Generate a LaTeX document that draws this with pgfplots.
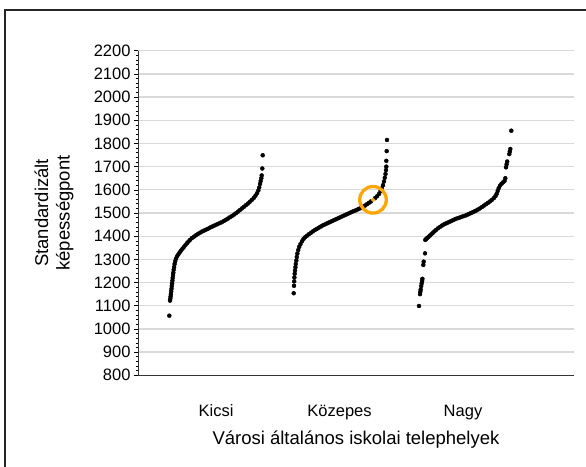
\documentclass[border=0pt]{standalone}
\usepackage{fontspec}
\setmainfont{Liberation Sans}
\usepackage{pgfplots}
\pgfplotsset{compat=1.18}
\definecolor{ring}{RGB}{255,165,0}
\definecolor{gridc}{RGB}{217,217,217}
\begin{document}
\begin{tikzpicture}
\useasboundingbox (0pt,0pt) rectangle (586pt,466pt);
\fill[white] (0pt,0pt) rectangle (586pt,466pt);
\draw[line width=2pt, black!85] (5pt,-20pt) -- (5pt,456pt) -- (600pt,456pt);
\begin{axis}[
  at={(138pt,90.7pt)}, anchor=south west,
  scale only axis, width=436pt, height=324.6pt,
  xmin=138, xmax=574, ymin=800, ymax=2200,
  axis x line*=bottom, axis y line*=left,
  axis line style={-, black!80, line width=1pt},
  ymajorgrids, major grid style={gridc, line width=1.3pt},
  ytick={800,900,...,2200}, minor y tick num=4,
  xtick={216,339.5,463}, xticklabels={Kicsi,Közepes,Nagy},
  x tick style={draw=none},
  tick align=outside, major tick length=4pt, minor tick length=2.5pt,
  y tick style={black, line width=0.6pt},
  /pgf/number format/assume math mode=true,
  /pgf/number format/1000 sep={},
  yticklabel style={font=\fontsize{16.5pt}{19pt}\selectfont},
  xticklabel style={font=\fontsize{16.5pt}{19pt}\selectfont, yshift=-22pt},
  xlabel={Városi általános iskolai telephelyek},
  xlabel style={at={(axis description cs:0.5,0)}, anchor=north, yshift=-52pt, font=\fontsize{18.5pt}{22pt}\selectfont},
  clip=false,
]
% Kicsi
\addplot[only marks, mark=*, mark size=2pt, black] table {
x y
169.3 1057
170.0 1122
170.3 1130
170.6 1140
170.9 1150
171.2 1162
171.5 1173
171.8 1185
172.1 1196
172.4 1208
172.7 1220
173.0 1232
173.3 1242
173.7 1255
174.1 1267
174.6 1280
175.2 1292
176.0 1303
177.0 1313
178.3 1321
179.6 1330
181.0 1338
182.5 1346
184.0 1354
185.5 1362
187.0 1370
188.5 1377
190.0 1384
192.0 1392
194.0 1398
196.0 1404
198.0 1410
200.0 1415
202.0 1420
204.0 1424
206.0 1428
208.0 1432
210.0 1437
212.0 1441
214.0 1445
216.0 1449
218.0 1453
220.0 1457
222.0 1461
224.0 1466
226.0 1471
228.0 1476
230.0 1482
232.0 1487
234.0 1493
236.0 1499
238.0 1506
240.0 1513
242.0 1520
244.0 1527
246.0 1534
248.0 1541
250.0 1549
252.0 1557
254.0 1566
255.5 1575
257.0 1585
258.3 1597
259.2 1610
260.0 1625
260.7 1638
261.3 1650
261.7 1662
262.3 1692
262.7 1749
};
% Kozepes
\addplot[only marks, mark=*, mark size=2pt, black] table {
x y
293.7 1154
294.0 1186
294.2 1205
294.4 1222
294.7 1238
295.0 1252
295.4 1266
295.8 1280
296.3 1295
296.8 1310
297.4 1325
298.2 1340
299.2 1354
300.5 1366
302.0 1378
303.5 1388
305.0 1395
307.0 1402
309.0 1409
311.0 1415
313.0 1421
315.0 1427
317.0 1432
319.0 1437
321.0 1442
323.0 1447
325.0 1451
327.0 1455
329.0 1459
331.0 1463
333.0 1467
335.0 1471
337.0 1475
339.0 1479
341.0 1483
343.0 1487
345.0 1491
347.0 1495
349.0 1499
351.0 1503
353.0 1507
355.0 1510
357.0 1514
359.0 1518
361.0 1522
363.0 1527
365.0 1532
367.0 1538
369.0 1544
371.0 1550
375.0 1564
377.0 1572
379.0 1582
380.5 1594
381.8 1606
383.0 1620
384.0 1636
384.8 1652
385.5 1668
386.0 1685
386.3 1700
386.3 1725
386.7 1767
387.0 1815
};
% Nagy
\addplot[only marks, mark=*, mark size=2pt, black] table {
x y
419.0 1099
420.0 1150
420.3 1160
420.7 1170
421.2 1185
421.7 1197
422.1 1207
422.4 1216
423.3 1276
423.7 1290
425.0 1326
425.3 1384
426.2 1388
427.2 1392
428.5 1397
430.0 1403
431.5 1409
433.0 1415
434.5 1421
436.0 1427
438.0 1434
440.0 1440
442.0 1446
444.0 1451
446.0 1455
448.0 1459
450.0 1463
452.0 1467
454.0 1471
456.0 1475
458.0 1478
460.0 1481
462.0 1484
464.0 1487
466.0 1490
468.0 1494
470.0 1498
472.0 1502
474.0 1506
476.0 1510
478.0 1515
480.0 1520
482.0 1526
484.0 1532
486.0 1538
488.0 1544
490.0 1550
492.0 1557
494.0 1565
495.5 1573
496.7 1583
497.7 1595
498.7 1607
500.0 1618
501.5 1626
503.0 1632
504.5 1638
505.3 1650
506.0 1697
506.6 1710
507.2 1722
509.3 1754
509.8 1765
510.3 1776
511.3 1855
};
% highlighted school
\addplot[only marks, mark=*, mark size=1.8pt, ring] coordinates {(373,1557)};
\addplot[only marks, mark=o, mark size=13.3pt, mark options={draw=ring, line width=3.3pt}] coordinates {(373,1557)};
\end{axis}
\node[rotate=90, align=center, font=\fontsize{18.5pt}{21.5pt}\selectfont] at (54pt,253pt) {Standardizált\\képességpont};
\end{tikzpicture}
\end{document}
